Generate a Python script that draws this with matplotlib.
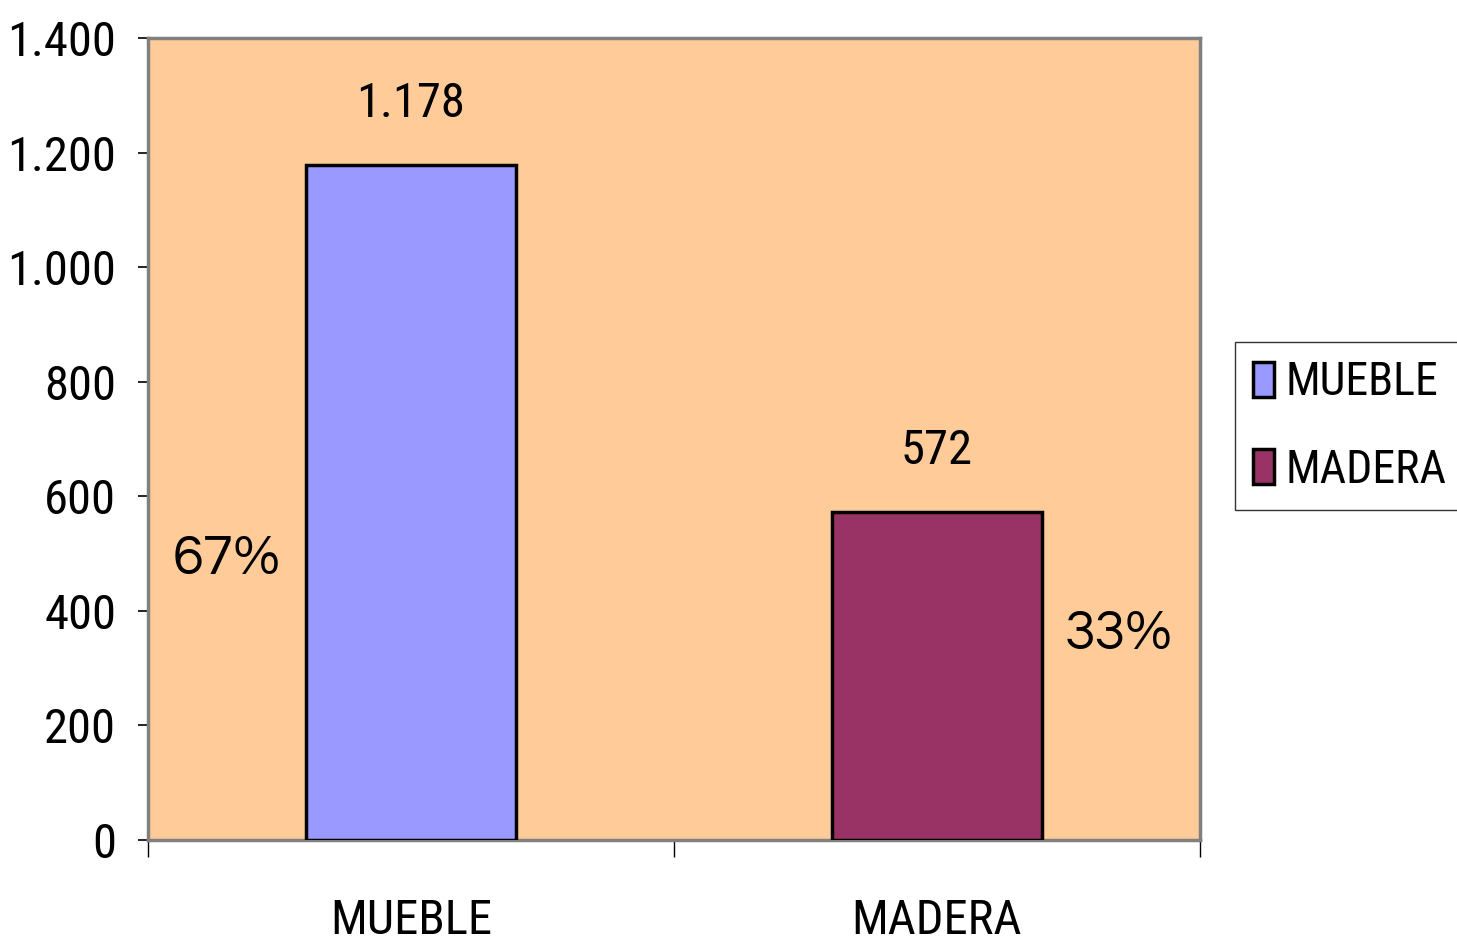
import matplotlib
matplotlib.use("Agg")
import matplotlib.pyplot as plt
from matplotlib.patches import Patch

# Datos del grafico
categorias = ["MUEBLE", "MADERA"]
valores = [1178, 572]
etiquetas_valor = ["1.178", "572"]
porcentajes = ["67%", "33%"]
colores = ["#9999FF", "#993366"]
yticks = [0, 200, 400, 600, 800, 1000, 1200, 1400]
ytick_labels = ["0", "200", "400", "600", "800", "1.000", "1.200", "1.400"]

# Fuentes: una estrecha para los numeros y otra geometrica para los porcentajes
fuente = ["Roboto Condensed", "Archivo Narrow", "PT Sans Narrow", "DejaVu Sans"]
fuente_pct = ["Questrial", "Didact Gothic", "DejaVu Sans"]

fig = plt.figure(figsize=(14.57, 9.46), dpi=100)
ax = fig.add_axes([0.1016, 0.1121, 0.7220, 0.8477])
ax.set_facecolor("#FFCC99")

posiciones = [0.5, 1.5]
barras = ax.bar(posiciones, valores, width=0.40, color=colores,
                edgecolor="black", linewidth=2.5, zorder=3)

# Etiquetas de valor sobre las barras
for x, v, t in zip(posiciones, valores, etiquetas_valor):
    ax.annotate(t, (x, v), xytext=(0, 44), textcoords="offset points",
                ha="center", va="center", fontsize=35, family=fuente)

# Porcentajes al costado de cada barra
ax.text(0.15, 489, porcentajes[0], ha="center", va="center",
        fontsize=40, family=fuente_pct)
ax.text(1.846, 358, porcentajes[1], ha="center", va="center",
        fontsize=40, family=fuente_pct)

ax.set_xlim(0, 2)
ax.set_ylim(0, 1400)

# Eje Y
ax.set_yticks(yticks)
ax.set_yticklabels(ytick_labels, family=fuente, fontsize=35)
ax.tick_params(axis="y", length=7, width=1.2, pad=16, color="black")

# Eje X: marcas en los limites de categoria, etiquetas centradas
ax.set_xticks([0, 1, 2])
ax.set_xticklabels([])
ax.tick_params(axis="x", which="major", length=12, width=1, color="black")
ax.set_xticks(posiciones, minor=True)
ax.set_xticklabels(categorias, minor=True, family=fuente, fontsize=35)
ax.tick_params(axis="x", which="minor", length=0, pad=42)

for lado in ["top", "right", "left", "bottom"]:
    ax.spines[lado].set_color("#808080")
    ax.spines[lado].set_linewidth(2.5)

# Leyenda
manejadores = [Patch(facecolor=c, edgecolor="black", linewidth=2.5) for c in colores]
leg = fig.legend(manejadores, categorias, loc="upper left",
                 bbox_to_anchor=(0.8476, 0.6385), frameon=True,
                 prop={"family": fuente, "size": 33},
                 handlelength=0.45, handleheight=0.8, handletextpad=0.25,
                 labelspacing=0.95, borderpad=0.4, fancybox=False,
                 borderaxespad=0)
leg.get_frame().set_edgecolor("black")
leg.get_frame().set_linewidth(1)

fig.savefig("out.png", dpi=100)
